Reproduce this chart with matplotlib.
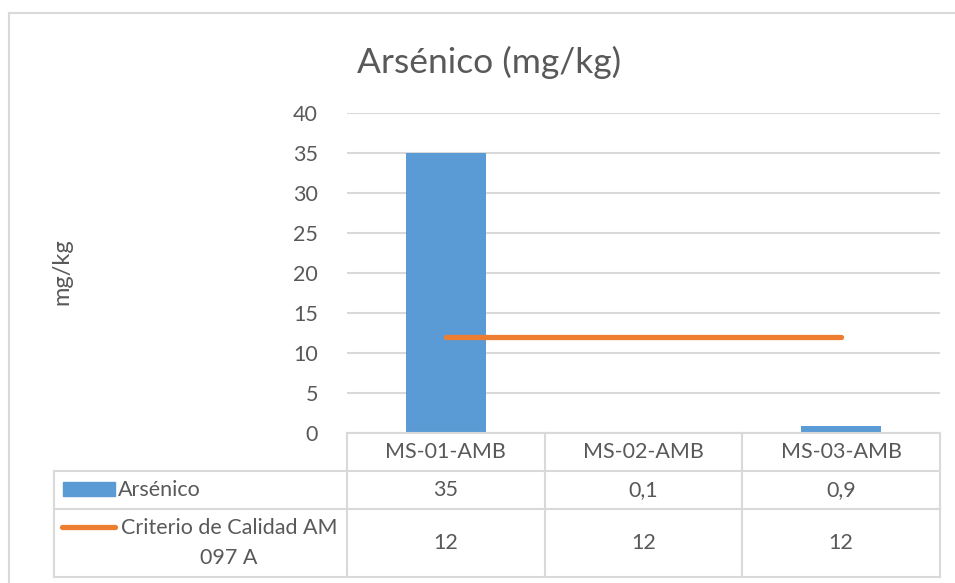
import matplotlib.pyplot as plt
from matplotlib.lines import Line2D
from matplotlib.patches import Rectangle

# Data
samples = ['MS-01-AMB', 'MS-02-AMB', 'MS-03-AMB']
arsenico = [35, 0.1, 0.9]
criterio = [12, 12, 12]
series_names = ['Arsénico', 'Criterio de Calidad AM\n097 A']

# Colors
bar_color = '#5b9bd5'
line_color = '#ed7d31'
grid_color = '#d9d9d9'
text_color = '#595959'

plt.rcParams['font.family'] = ['Lato', 'DejaVu Sans']

W, H = 955, 583
fig = plt.figure(figsize=(W / 100, H / 100), dpi=100)

def fx(px): return px / W
def fy(py): return 1 - py / H

# Chart area border (only top and left edges are in frame)
fig.add_artist(Line2D([fx(9), fx(9)], [fy(13), 0], color=grid_color, lw=1.5))
fig.add_artist(Line2D([fx(9), 1], [fy(13), fy(13)], color=grid_color, lw=1.5))

# Plot area
x0, x1, ytop, ybot = 347, 940, 113, 433
ax = fig.add_axes([fx(x0), fy(ybot), fx(x1) - fx(x0), fy(ytop) - fy(ybot)])
idx = list(range(len(samples)))
ax.bar(idx, arsenico, width=0.405, color=bar_color, zorder=2)
ax.plot(idx, criterio, color=line_color, lw=3.8, solid_capstyle='round', zorder=3)
ax.set_xlim(-0.5, 2.5)
ax.set_ylim(0, 40)
ax.set_yticks(range(0, 41, 5))
ax.set_xticks([])
ax.grid(axis='y', color=grid_color, lw=1.5, zorder=0)
for s in ax.spines.values(): s.set_visible(False)
ax.tick_params(axis='y', length=0, pad=21, labelsize=15.5, labelcolor=text_color)

fig.text(fx(489), fy(62), 'Arsénico (mg/kg)', ha='center', va='center',
         fontsize=25.5, color=text_color)
fig.text(fx(62), fy(272), 'mg/kg', ha='center', va='center', rotation=90,
         fontsize=17, color=text_color)

# Data table below the plot, sharing the category axis units
tleft, tbot = 54, 577
unit = (x1 - x0) / 3
xl = -0.5 - (x0 - tleft) / unit
tax = fig.add_axes([fx(tleft), fy(tbot), fx(x1) - fx(tleft), fy(ybot) - fy(tbot)])
tax.set_xlim(xl, 2.5)
tax.set_ylim(tbot, ybot)
tax.axis('off')
lk = dict(color=grid_color, lw=1.5, clip_on=False)
r1, r2 = 471, 509
tax.plot([-0.5, 2.5], [ybot, ybot], **lk)
for y in (r1, r2, tbot):
    tax.plot([xl, 2.5], [y, y], **lk)
for x in (-0.5, 0.5, 1.5, 2.5):
    tax.plot([x, x], [ybot, tbot], **lk)
tax.plot([xl, xl], [r1, tbot], **lk)

fs = 15.5
tk = dict(ha='center', va='center', fontsize=fs, color=text_color)
fmt = lambda v: f'{v:g}'.replace('.', ',')
for i, s in enumerate(samples):
    tax.text(i, (ybot + r1) / 2, s, **tk)
    tax.text(i, (r1 + r2) / 2, fmt(arsenico[i]), **tk)
    tax.text(i, (r2 + tbot) / 2, fmt(criterio[i]), **tk)

# Legend keys in the first column
kx = lambda px: xl + (px - tleft) / unit
tax.add_patch(Rectangle((kx(63), 496), kx(115) - kx(63), -14, color=bar_color, clip_on=False))
tax.plot([kx(62), kx(115)], [527, 527], color=line_color, lw=3.8,
         solid_capstyle='round', clip_on=False)
tax.text(kx(118), (r1 + r2) / 2, series_names[0], ha='left', va='center',
         fontsize=fs, color=text_color)
# two-line label, each line centred in the space right of the key
for k, part in enumerate(series_names[1].split('\n')):
    tax.text(kx(229), 528 + 30 * k, part, **tk)

fig.savefig('out.png', dpi=100)
